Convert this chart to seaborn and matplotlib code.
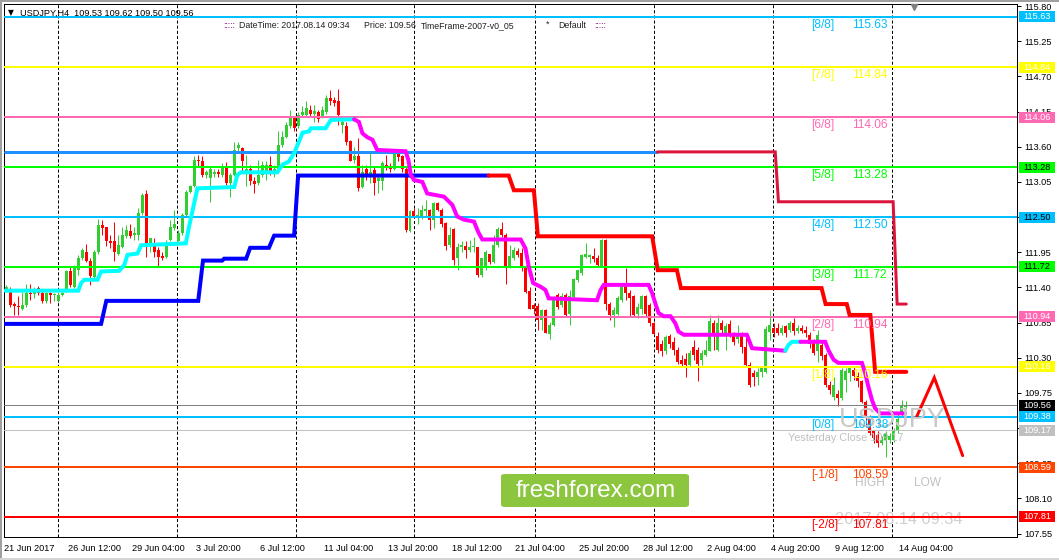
import numpy as np
import matplotlib
matplotlib.use("Agg")
import matplotlib.pyplot as plt
import matplotlib.transforms as mtransforms
from matplotlib.patches import Rectangle, FancyBboxPatch
import seaborn as sns

# ---------------- data ----------------
opens = [111.36, 111.33, 111.14, 111.11, 111.06, 111.13, 111.32, 111.30, 111.39, 111.32,
         111.19, 111.31, 111.28, 111.19, 111.28, 111.36, 111.65, 111.41, 111.67, 111.86,
         111.95, 111.82, 111.57, 111.95, 112.38, 112.34, 112.13, 112.13, 111.93, 112.04,
         112.20, 112.28, 112.22, 112.22, 112.56, 112.86, 112.09, 112.09, 111.98, 111.89,
         111.88, 112.14, 112.33, 112.13, 112.25, 112.53, 112.90, 112.98, 113.39, 113.37,
         113.16, 113.11, 113.17, 113.21, 113.16, 113.28, 113.03, 113.16, 113.58, 113.58,
         113.21, 113.26, 113.06, 113.03, 113.16, 113.21, 113.32, 113.21, 113.26, 113.63,
         113.76, 113.92, 114.05, 113.92, 114.10, 114.10, 114.18, 114.12, 114.15, 114.07,
         114.15, 114.37, 114.33, 114.32, 113.94, 113.93, 113.69, 113.39, 113.46, 112.97,
         113.25, 113.16, 113.24, 113.06, 113.07, 113.32, 113.30, 113.26, 113.50, 113.45,
         113.26, 112.29, 112.60, 112.50, 112.52, 112.59, 112.61, 112.46, 112.72, 112.61,
         112.41, 112.06, 112.31, 111.86, 112.04, 112.05, 111.99, 112.03, 112.03, 111.59,
         111.70, 111.92, 111.80, 112.06, 112.32, 112.22, 111.73, 111.86, 111.97, 111.94,
         111.73, 111.35, 111.13, 111.11, 110.89, 111.04, 110.67, 110.81, 111.28, 111.12,
         111.28, 110.99, 111.25, 111.52, 111.62, 111.88, 111.88, 111.89, 111.86, 111.74,
         112.14, 111.14, 110.97, 110.99, 111.20, 111.40, 111.31, 111.27, 110.99, 111.06,
         111.27, 111.12, 110.84, 110.64, 110.52, 110.40, 110.64, 110.55, 110.42, 110.27,
         110.28, 110.19, 110.47, 110.42, 110.27, 110.34, 110.41, 110.85, 110.42, 110.85,
         110.68, 110.83, 110.68, 110.60, 110.68, 110.47, 110.19, 110.06, 110.00, 110.08,
         110.08, 110.71, 110.76, 110.76, 110.68, 110.79, 110.73, 110.84, 110.72, 110.76,
         110.73, 110.66, 110.53, 110.40, 110.50, 110.34, 109.87, 109.69, 109.74, 109.67,
         109.95, 110.06, 110.11, 110.02, 109.93, 109.61, 109.38, 109.15, 109.09, 108.96,
         109.01, 109.01, 109.01, 109.15, 109.40, 109.53]
highs = [111.44, 111.41, 111.18, 111.26, 111.33, 111.46, 111.45, 111.41, 111.42, 111.36,
         111.33, 111.33, 111.31, 111.33, 111.33, 111.67, 111.73, 111.75, 111.91, 112.01,
         112.08, 111.86, 111.99, 112.47, 112.46, 112.35, 112.22, 112.43, 112.22, 112.35,
         112.38, 112.40, 112.35, 112.64, 112.87, 112.92, 112.18, 112.17, 112.04, 111.96,
         112.14, 112.46, 112.61, 112.30, 112.56, 112.92, 113.00, 113.46, 113.47, 113.45,
         113.24, 113.29, 113.25, 113.26, 113.34, 113.36, 113.19, 113.68, 113.68, 113.60,
         113.47, 113.32, 113.13, 113.39, 113.37, 113.37, 113.45, 113.32, 113.84, 113.84,
         113.99, 114.18, 114.07, 114.15, 114.23, 114.31, 114.25, 114.25, 114.18, 114.23,
         114.41, 114.49, 114.38, 114.50, 114.05, 113.99, 113.71, 113.60, 113.73, 113.32,
         113.32, 113.52, 113.29, 113.16, 113.37, 113.47, 113.34, 113.52, 113.55, 113.47,
         113.30, 112.61, 112.64, 112.64, 112.69, 112.77, 112.62, 112.74, 112.74, 112.64,
         112.43, 112.35, 112.33, 112.09, 112.12, 112.12, 112.14, 112.19, 112.04, 111.86,
         111.99, 111.93, 112.22, 112.35, 112.42, 112.25, 112.06, 112.04, 112.01, 112.01,
         111.75, 111.41, 111.15, 111.15, 111.07, 111.07, 110.86, 111.27, 111.31, 111.31,
         111.31, 111.36, 111.54, 111.68, 111.92, 112.09, 111.93, 112.01, 111.91, 112.15,
         112.15, 111.18, 111.10, 111.26, 111.44, 111.71, 111.36, 111.28, 111.15, 111.28,
         111.28, 111.15, 110.86, 110.71, 110.58, 110.66, 110.67, 110.63, 110.47, 110.34,
         110.37, 110.42, 110.58, 110.47, 110.42, 110.58, 110.97, 110.89, 110.97, 110.89,
         110.84, 110.89, 110.71, 110.81, 110.71, 110.63, 110.24, 110.11, 110.14, 110.16,
         110.79, 111.05, 110.84, 110.84, 110.81, 110.81, 110.88, 110.92, 110.81, 110.81,
         110.79, 110.70, 110.60, 110.74, 110.55, 110.37, 109.93, 110.00, 109.80, 110.14,
         110.14, 110.16, 110.16, 110.08, 109.95, 109.64, 109.40, 109.17, 109.15, 109.07,
         109.15, 109.12, 109.20, 109.43, 109.64, 109.62]
lows = [111.33, 111.10, 110.97, 110.97, 111.05, 111.10, 111.20, 111.23, 111.28, 111.15,
        111.15, 111.15, 111.19, 111.18, 111.27, 111.33, 111.41, 111.39, 111.60, 111.83,
        111.80, 111.44, 111.54, 111.93, 112.22, 112.05, 112.01, 111.82, 111.91, 112.01,
        112.17, 112.17, 112.14, 112.14, 112.53, 111.88, 111.96, 111.88, 111.74, 111.83,
        111.86, 112.12, 112.30, 112.12, 112.22, 112.51, 112.87, 112.97, 113.29, 113.13,
        113.11, 112.73, 113.13, 113.13, 113.13, 113.00, 112.82, 113.14, 113.50, 113.21,
        112.98, 113.00, 112.87, 113.00, 113.13, 113.08, 113.16, 113.13, 113.24, 113.60,
        113.73, 113.89, 113.84, 113.89, 114.07, 114.07, 114.07, 113.99, 113.99, 114.05,
        114.12, 114.25, 114.23, 113.94, 113.81, 113.63, 113.37, 113.34, 112.91, 112.95,
        113.08, 113.03, 112.85, 112.87, 112.92, 113.24, 113.21, 113.24, 113.37, 113.21,
        112.26, 112.27, 112.48, 112.40, 112.47, 112.51, 112.30, 112.33, 112.59, 112.35,
        111.98, 112.04, 111.75, 111.67, 111.96, 111.86, 111.96, 111.96, 111.56, 111.56,
        111.67, 111.77, 111.78, 112.04, 112.19, 111.46, 111.70, 111.83, 111.88, 111.66,
        111.31, 111.06, 110.99, 110.73, 110.73, 110.68, 110.60, 110.79, 111.07, 111.10,
        110.95, 110.81, 111.23, 111.49, 111.59, 111.86, 111.78, 111.80, 111.73, 111.73,
        111.05, 110.89, 110.78, 110.97, 111.18, 111.20, 110.94, 110.94, 110.92, 110.99,
        110.94, 110.79, 110.66, 110.38, 110.32, 110.36, 110.45, 110.35, 110.21, 110.16,
        110.00, 110.16, 110.27, 109.93, 110.19, 110.32, 110.40, 110.42, 110.40, 110.68,
        110.42, 110.63, 110.50, 110.53, 110.37, 110.15, 109.84, 109.86, 109.88, 110.00,
        110.06, 110.58, 110.63, 110.66, 110.66, 110.63, 110.71, 110.66, 110.68, 110.68,
        110.63, 110.45, 110.34, 110.24, 110.27, 109.84, 109.74, 109.64, 109.55, 109.64,
        109.77, 109.93, 109.95, 109.85, 109.59, 109.22, 109.09, 108.96, 108.91, 108.94,
        108.75, 108.96, 108.99, 109.12, 109.38, 109.50]
closes = [111.41, 111.13, 111.11, 111.09, 111.13, 111.31, 111.30, 111.37, 111.32, 111.19,
          111.31, 111.28, 111.29, 111.28, 111.32, 111.65, 111.44, 111.72, 111.86, 111.98,
          111.82, 111.58, 111.95, 112.38, 112.33, 112.13, 112.10, 111.95, 112.06, 112.22,
          112.30, 112.20, 112.25, 112.56, 112.85, 112.09, 112.17, 111.96, 111.88, 111.86,
          112.06, 112.34, 112.39, 112.25, 112.53, 112.90, 112.98, 113.39, 113.37, 113.16,
          113.20, 113.25, 113.20, 113.17, 113.28, 113.03, 113.16, 113.55, 113.62, 113.37,
          113.26, 113.06, 113.02, 113.16, 113.32, 113.32, 113.21, 113.26, 113.63, 113.76,
          113.94, 114.07, 113.89, 114.10, 114.15, 114.20, 114.12, 114.16, 114.03, 114.18,
          114.36, 114.31, 114.28, 114.10, 113.99, 113.68, 113.38, 113.45, 112.95, 113.21,
          113.16, 113.21, 113.04, 113.11, 113.34, 113.29, 113.26, 113.50, 113.44, 113.26,
          112.30, 112.59, 112.51, 112.53, 112.61, 112.62, 112.46, 112.72, 112.61, 112.40,
          112.05, 112.22, 111.83, 112.04, 112.06, 111.99, 112.04, 112.04, 111.59, 111.86,
          111.96, 111.80, 112.06, 112.32, 112.22, 111.73, 111.89, 111.99, 111.91, 111.74,
          111.33, 111.07, 111.07, 110.89, 111.05, 110.69, 110.81, 111.20, 111.10, 111.26,
          110.97, 111.26, 111.53, 111.67, 111.91, 111.93, 111.91, 111.84, 111.75, 112.14,
          111.14, 110.97, 111.05, 111.23, 111.41, 111.31, 111.23, 110.97, 111.10, 111.27,
          110.99, 110.84, 110.67, 110.42, 110.40, 110.63, 110.52, 110.42, 110.24, 110.20,
          110.19, 110.37, 110.34, 110.20, 110.37, 110.42, 110.87, 110.68, 110.84, 110.74,
          110.80, 110.68, 110.55, 110.68, 110.47, 110.19, 109.87, 110.00, 110.08, 110.14,
          110.75, 110.81, 110.68, 110.68, 110.76, 110.68, 110.84, 110.72, 110.76, 110.72,
          110.68, 110.52, 110.37, 110.66, 110.32, 109.87, 109.80, 109.87, 109.67, 110.11,
          110.10, 110.14, 110.01, 109.93, 109.61, 109.38, 109.12, 109.04, 108.96, 109.01,
          109.12, 109.07, 109.17, 109.35, 109.54, 109.56]

# Murrey math levels
level_names = ["[8/8]", "[7/8]", "[6/8]", "[5/8]", "[4/8]", "[3/8]", "[2/8]", "[1/8]", "[0/8]", "[-1/8]", "[-2/8]"]
level_values = [115.63, 114.84, 114.06, 113.28, 112.50, 111.72, 110.94, 110.16, 109.38, 108.59, 107.81]
level_colors = ["#00BFFF", "#FFFF00", "#FF69B4", "#00FF00", "#00BFFF", "#00FF00", "#FF69B4", "#FFFF00", "#00BFFF", "#FF4500", "#FF0000"]
level_box_text = ["white", "white", "white", "black", "black", "black", "white", "white", "white", "white", "white"]
current_price = 109.56
yesterday_close = 109.17

# trend step lines
upper_blue_bars = [-0.3, 162.9]
upper_blue_vals = [113.52, 113.52]
upper_red_bars = [162.9, 192.4, 193.2, 221.9, 222.9, 225.2]
upper_red_vals = [113.52, 113.52, 112.74, 112.74, 111.14, 111.14]
lower_blue_bars = [-0.3, 23.7, 25.0, 48.0, 49.2, 54.0, 54.5, 60.0, 61.0, 65.7, 67.0, 72.0, 73.0, 120.7]
lower_blue_vals = [110.83, 110.83, 111.19, 111.19, 111.82, 111.82, 111.85, 111.85, 112.02, 112.02, 112.21, 112.21, 113.15, 113.15]
lower_red_bars = [120.7, 125.7, 127.0, 132.0, 133.0, 161.6, 163.0, 167.8, 168.8, 204.0, 205.0, 210.3, 211.0, 216.2, 217.4, 225.2]
lower_red_vals = [113.15, 113.15, 112.92, 112.92, 112.20, 112.20, 111.67, 111.67, 111.39, 111.39, 111.14, 111.14, 110.97, 110.97, 110.08, 110.08]

# smooth trend line (cyan up / magenta down)
cyan1_bars = [-0.3, 18.0, 18.7, 19.5, 22.8, 23.7, 28.2, 29.5, 30.3, 32.8, 33.7, 44.9, 45.7, 47.0, 47.8, 57.0, 57.8, 58.7,
              67.8, 69.1, 70.7, 72.0, 73.2, 74.1, 75.7, 76.2, 79.9, 81.2, 87.0]
cyan1_vals = [111.35, 111.35, 111.47, 111.52, 111.52, 111.65, 111.66, 111.75, 111.91, 111.93, 112.06, 112.09, 112.35, 112.72,
              112.95, 112.97, 113.16, 113.20, 113.20, 113.32, 113.37, 113.50, 113.68, 113.82, 113.84, 113.89, 113.89, 114.02, 114.03]
mag1_bars = [87.0, 88.2, 89.1, 90.3, 91.6, 92.8, 99.9, 100.6, 101.2, 102.0, 104.1, 105.3, 109.5, 111.6, 112.8, 114.5, 117.0,
             118.2, 119.1, 128.7, 129.9, 130.7, 131.8, 133.7, 134.9, 135.7, 147.8, 148.7, 149.5, 160.7, 161.6, 162.4, 163.2,
             164.5, 166.2, 167.4, 168.2, 169.5, 185.3, 186.6, 194.9]
mag1_vals = [114.03, 113.99, 113.81, 113.75, 113.71, 113.55, 113.53, 113.39, 113.16, 113.08, 113.05, 112.87, 112.82, 112.69,
             112.51, 112.46, 112.43, 112.25, 112.15, 112.15, 112.01, 111.73, 111.47, 111.41, 111.36, 111.23, 111.20, 111.36,
             111.44, 111.44, 111.31, 111.15, 111.00, 110.95, 110.95, 110.84, 110.71, 110.66, 110.66, 110.45, 110.41]
cyan2_bars = [194.9, 195.7, 196.6, 198.7]
cyan2_vals = [110.41, 110.50, 110.55, 110.55]
mag2_bars = [198.7, 204.9, 205.7, 207.0, 208.2, 214.1, 214.9, 215.7, 216.6, 217.4, 218.7, 224.9]
mag2_vals = [110.55, 110.55, 110.42, 110.27, 110.22, 110.22, 110.06, 109.85, 109.64, 109.51, 109.43, 109.43]

# projected zigzag
zigzag_bars = [227.8, 232.2, 239.3]
zigzag_vals = [109.38, 109.99, 108.77]

# axes ticks
price_ticks = [107.55, 108.10, 108.65, 109.20, 109.75, 110.30, 110.85, 111.40, 111.95, 112.50,
               113.05, 113.60, 114.15, 114.70, 115.25, 115.80]
time_tick_bars = [0, 16, 32, 48, 64, 80, 96, 112, 128, 144, 160, 176, 192, 208, 224]
time_tick_labels = ["21 Jun 2017", "26 Jun 12:00", "29 Jun 04:00", "3 Jul 20:00", "6 Jul 12:00", "11 Jul 04:00",
                    "13 Jul 20:00", "18 Jul 12:00", "21 Jul 04:00", "25 Jul 20:00", "28 Jul 12:00", "2 Aug 04:00",
                    "4 Aug 20:00", "9 Aug 12:00", "14 Aug 04:00"]
grid_bars = [12.9, 42.7, 72.4, 102.0, 132.3, 162.1, 191.9, 221.6]

# ---------------- figure ----------------
sns.set_style("white")
plt.rcParams['font.family'] = ['Liberation Sans', 'DejaVu Sans']
plt.rcParams['lines.scale_dashes'] = False

W, H = 1059, 560
fig = plt.figure(figsize=(W / 100, H / 100), dpi=100)
fig.patch.set_facecolor("white")
ax = fig.add_axes([4 / W, (H - 537) / H, 1013 / W, 533 / H])
ax.set_facecolor("white")
ax.set_xlim(-0.33, 252.9)
ax.set_ylim(107.497, 115.833)

PX = 0.72  # one pixel in points

# grid
for g in grid_bars:
    ax.axvline(g, color="black", lw=PX, dashes=(2.2, 1.5), zorder=1)

# candles
idx = np.arange(len(closes))
o = np.array(opens); c = np.array(closes); hi = np.array(highs); lo = np.array(lows)
up = c >= o
cols = np.where(up, "#32CD32", "#FF0000")
ax.vlines(idx, lo, hi, colors=cols, lw=PX, zorder=2)
bottom = np.minimum(o, c)
height = np.maximum(np.abs(c - o), 0.016)
ax.bar(idx, height, bottom=bottom, width=0.75, color=cols, linewidth=0, zorder=2.1)

# level lines
for v, col in zip(level_values, level_colors):
    ax.axhline(v, color=col, lw=2 * PX, zorder=3)
ax.axhline(current_price, color="#808080", lw=PX, zorder=3)
ax.axhline(yesterday_close, color="#C0C0C0", lw=PX, zorder=3)

# watermark texts
ax.text(221.7, 109.33, "USDJPY", fontsize=19.5, color="#C8C8C8", ha="center", va="center", zorder=4.5)
ax.text(195.6, 109.05, "Yesterday Close 109.17", fontsize=7.8, color="#C0C0C0", ha="left", va="center", zorder=3.5)
ax.text(216.2, 108.34, "HIGH", fontsize=8.6, color="#C0C0C0", ha="center", va="center", zorder=3.5)
ax.text(230.4, 108.34, "LOW", fontsize=8.6, color="#C0C0C0", ha="center", va="center", zorder=3.5)
ax.text(223.4, 107.77, "2017.08.14 09:34", fontsize=11.8, color="#D0D0D0", ha="center", va="center", zorder=2.5)

# trend step lines
def seg(xs, ys, color, lw):
    sns.lineplot(x=xs, y=ys, color=color, lw=lw, ax=ax, sort=False, estimator=None,
                 legend=False, zorder=4, solid_joinstyle="miter")

seg(upper_blue_bars, upper_blue_vals, "#1E90FF", 3 * PX)
seg(upper_red_bars, upper_red_vals, "#DC143C", 3 * PX)
seg(lower_blue_bars, lower_blue_vals, "#0000FF", 4 * PX)
seg(lower_red_bars, lower_red_vals, "#FF0000", 4 * PX)
seg(cyan1_bars, cyan1_vals, "#00FFFF", 4 * PX)
seg(mag1_bars, mag1_vals, "#FF00FF", 4 * PX)
seg(cyan2_bars, cyan2_vals, "#00FFFF", 4 * PX)
seg(mag2_bars, mag2_vals, "#FF00FF", 4 * PX)
seg(zigzag_bars, zigzag_vals, "#FF0000", 3 * PX)

# level labels
for name, v, col in zip(level_names, level_values, level_colors):
    ax.text(201.4, v - 0.125, name, fontsize=8.6, color=col, ha="left", va="center", zorder=5)
    ax.text(211.6, v - 0.125, f"{v:.2f}", fontsize=8.6, color=col, ha="left", va="center", zorder=5)

# shift marker
ax.plot([227.2], [115.785], marker="v", color="#808080", ms=5, clip_on=False, zorder=6)

# axes styling
for s in ax.spines.values():
    s.set_color("black"); s.set_linewidth(PX)
ax.yaxis.tick_right()
ax.set_yticks(price_ticks)
ax.set_yticklabels([f"{t:.2f}" for t in price_ticks])
ax.tick_params(axis="y", direction="out", length=3, width=PX, pad=2, labelsize=6.6, colors="black")
ax.set_xticks([b - 0.6 for b in time_tick_bars])
ax.set_xticklabels(time_tick_labels, ha="left")
ax.tick_params(axis="x", direction="out", length=3, width=PX, pad=2, labelsize=6.6, colors="black")
ax.set_xlabel(""); ax.set_ylabel("")

# price boxes on the right axis
bt = mtransforms.blended_transform_factory(ax.transAxes, ax.transData)
box_h = 11 / 63.94
boxes = list(zip(level_values, level_colors, level_box_text))
boxes += [(current_price, "#000000", "white"), (yesterday_close, "#C0C0C0", "white")]
for v, col, tc in boxes:
    ax.add_patch(Rectangle((1.0015, v - box_h / 2), 0.0365, box_h, transform=bt, facecolor=col,
                           edgecolor="none", clip_on=False, zorder=10))
    ax.text(1.0197, v, f"{v:.2f}", transform=bt, fontsize=6.6, color=tc, ha="center", va="center",
            clip_on=False, zorder=11)

# header texts
hf = 6.3
fig.text(8 / W, 1 - 13 / H, "\u25BC", fontsize=5.5, color="black", va="center", family="DejaVu Sans")
fig.text(20 / W, 1 - 13 / H, "USDJPY,H4  109.53 109.62 109.50 109.56", fontsize=6.6, color="black", va="center")
fig.text(223 / W, 1 - 26 / H, ":::::", fontsize=hf, color="#800080", va="center")
fig.text(239 / W, 1 - 26 / H, "DateTime: 2017.08.14 09:34", fontsize=hf, color="#202020", va="center")
fig.text(364 / W, 1 - 26 / H, "Price: 109.56", fontsize=hf, color="#202020", va="center")
fig.text(421 / W, 1 - 26 / H, "TimeFrame-2007-v0_05", fontsize=hf, color="#202020", va="center")
fig.text(546 / W, 1 - 24 / H, "*", fontsize=hf, color="#202020", va="center")
fig.text(558 / W, 1 - 26 / H, "Default", fontsize=hf, color="#202020", va="center")
fig.text(594 / W, 1 - 26 / H, ":::::", fontsize=hf, color="#800080", va="center")

# freshforex logo
logo = FancyBboxPatch((501 / W, 1 - 507 / H), 188 / W, 33 / H, boxstyle="round,pad=0,rounding_size=0.004",
                      transform=fig.transFigure, facecolor="#8CC63F", edgecolor="none", zorder=20)
fig.patches.append(logo)
fig.text(596 / W, 1 - 491 / H, "freshforex.com", fontsize=17.5, color="white", ha="center", va="center", zorder=21)

# window border
fig.patches.append(Rectangle((0, 0), 2 / W, 1, transform=fig.transFigure, facecolor="#A0A0A0", edgecolor="none"))
fig.patches.append(Rectangle((0, 1 - 2 / H), 1, 2 / H, transform=fig.transFigure, facecolor="#A0A0A0", edgecolor="none"))
fig.patches.append(Rectangle((0, 0), 1, 2 / H, transform=fig.transFigure, facecolor="#D4D4D4", edgecolor="none"))

fig.savefig("out.png", dpi=100)
